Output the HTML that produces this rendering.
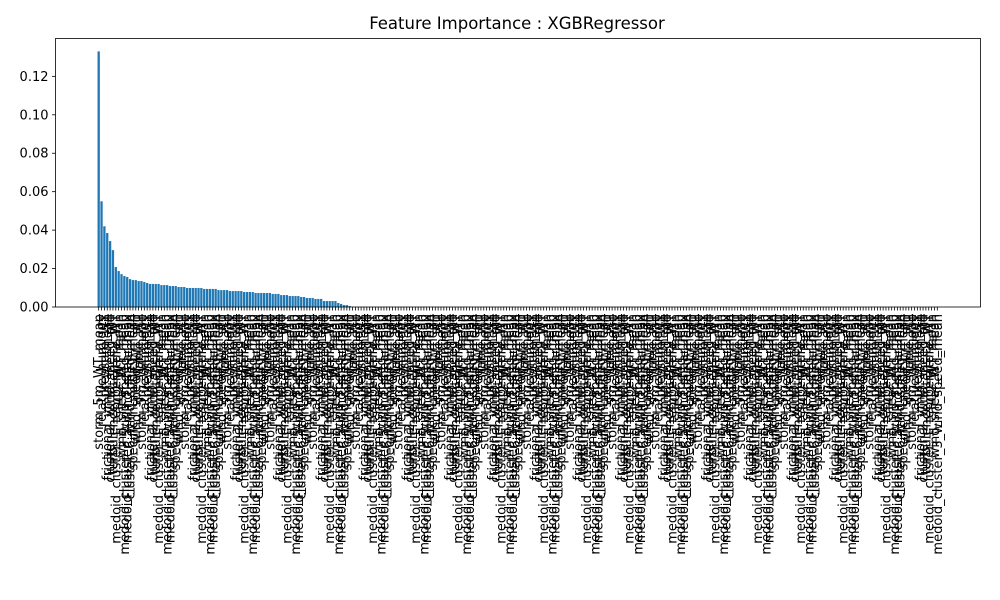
<!DOCTYPE html>
<html><head><meta charset="utf-8"><style>
body{margin:0;background:#fff}
svg{display:block;font-family:"DejaVu Sans","Liberation Sans",sans-serif}
</style></head><body>
<svg id="chart" width="1000" height="600" viewBox="0 0 1000 600">
<rect width="1000" height="600" fill="#fff"/>
<text x="517" y="29" font-size="16.5" text-anchor="middle">Feature Importance : XGBRegressor</text>
<g id="bars"></g><g id="yaxis"></g><g id="xaxis"></g>
<rect x="55.5" y="38.5" width="925" height="268.5" fill="none" stroke="#000" stroke-width="0.8"/>
</svg>
<script>
const topValues=[0.133,0.055,0.042,0.0385,0.0343,0.0296,0.0208,0.0187,0.0171,0.0161,0.0156,0.0145,0.014,0.014,0.0135,0.0135,0.013,0.0125,0.012,0.012,0.012,0.012,0.0114,0.0114,0.0114,0.0109,0.0109,0.0109,0.0104,0.0104,0.0104,0.0099,0.0099,0.0099,0.0099,0.0099,0.0099,0.0094,0.0094,0.0094,0.0094,0.0094,0.0088,0.0088,0.0088,0.0088,0.0083,0.0083,0.0083,0.0083,0.0083,0.0078,0.0078,0.0078,0.0078,0.0073,0.0073,0.0073,0.0073,0.0073,0.0073,0.0068,0.0068,0.0068,0.0062,0.0062,0.0062,0.0057,0.0057,0.0057,0.0057,0.0052,0.0052,0.0047,0.0047,0.0047,0.0042,0.0042,0.0042,0.0031,0.0031,0.0031,0.0031,0.0031,0.0021,0.0016,0.001,0.001,0.0005];
const barCount=295;
const yTicks=[0,0.02,0.04,0.06,0.08,0.10,0.12];
const nameParts=["storm_5m_WT_mean","wind_speed_WT_std","cluster_6_wind_speed_mean","medoid_cluster_3_wind_speed_mean","PC2_WT_mean","turbulence_intensity_WT","frictional_vmin_WT_mean","relative_humidity","stable_WT","specific_humidity_mean","medoid_cluster_5_wind_shear_max","wind_shear_WT_mean","medoid_cluster_1_temperature_WT","cluster_2_wind_speed_std","pressure_WT"];
const values=[];for(let i=0;i<barCount;i++)values.push(i<topValues.length?topValues[i]:0);
const labels=[];for(let i=0;i<barCount;i++)labels.push(nameParts[(i*7)%nameParts.length]);
const NS="http://www.w3.org/2000/svg";
const x0=55.5,pw=925,y0=307,ph=268.5,yMax=0.1397;
const span=(barCount-0.2)*1.1,xmin=-0.4-0.05*(barCount-0.2);
const xs=v=>x0+(v-xmin)/span*pw;
const ys=v=>y0-v/yMax*ph;
const bars=document.getElementById('bars'),xa=document.getElementById('xaxis'),ya=document.getElementById('yaxis');
values.forEach((v,i)=>{
 const r=document.createElementNS(NS,'rect');
 
 
 const a=xs(i-0.4),b=xs(i+0.4);
 r.setAttribute('x',a);r.setAttribute('width',b-a);
 r.setAttribute('y',ys(v));r.setAttribute('height',y0-ys(v));
 r.setAttribute('fill','#1f77b4');bars.appendChild(r);
 const t=document.createElementNS(NS,'line');
 
 
 t.setAttribute('x1',xs(i));t.setAttribute('x2',xs(i));t.setAttribute('y1',y0);t.setAttribute('y2',y0+3.5);
 t.setAttribute('stroke','#000');t.setAttribute('stroke-width','0.8');xa.appendChild(t);
 const l=document.createElementNS(NS,'text');
 
 
 l.setAttribute('font-size','13');l.setAttribute('text-anchor','end');
 l.setAttribute('transform','translate('+(xs(i)+4.5)+','+(y0+7)+') rotate(-90)');
 l.textContent=labels[i];xa.appendChild(l);
});
yTicks.forEach(v=>{
 const t=document.createElementNS(NS,'line');
 
 
 t.setAttribute('x1',x0-3.5);t.setAttribute('x2',x0);t.setAttribute('y1',ys(v));t.setAttribute('y2',ys(v));
 t.setAttribute('stroke','#000');t.setAttribute('stroke-width','0.8');ya.appendChild(t);
 const l=document.createElementNS(NS,'text');
 
 
 l.setAttribute('x',x0-7);l.setAttribute('y',ys(v)+4.5);l.setAttribute('font-size','13');l.setAttribute('text-anchor','end');
 l.textContent=v.toFixed(2);ya.appendChild(l);
});
</script>
</body></html>
